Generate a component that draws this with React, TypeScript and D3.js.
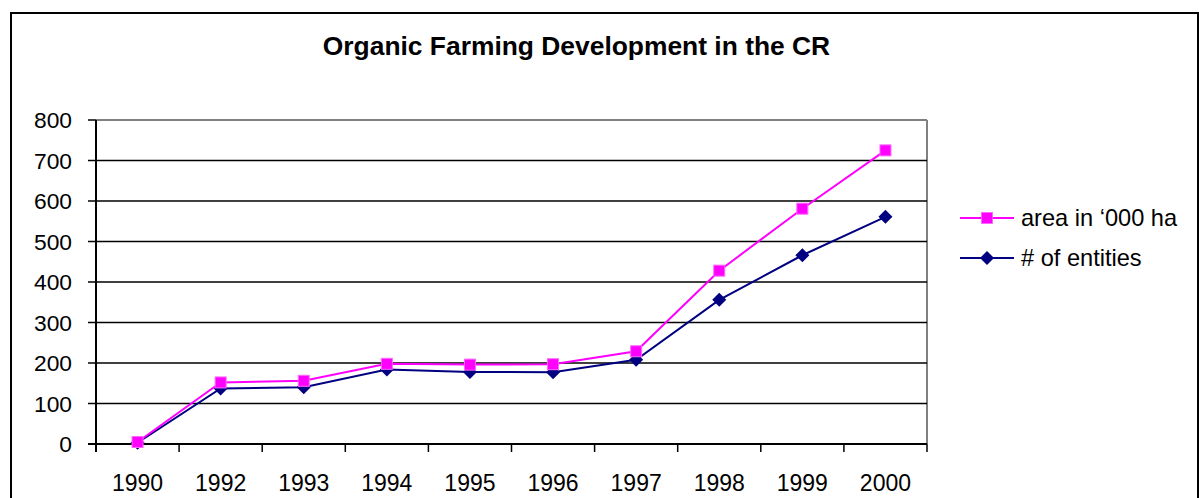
import React from "react";
import * as d3 from "d3";

const years = ["1990", "1992", "1993", "1994", "1995", "1996", "1997", "1998", "1999", "2000"];
const areaValues = [5, 152, 156, 198, 196, 197, 229, 428, 581, 725];
const entityValues = [3, 137, 140, 184, 178, 177, 208, 356, 466, 561];
const yTicks = [0, 100, 200, 300, 400, 500, 600, 700, 800];
const seriesNames = ["area in \u2018000 ha", "# of entities"];

const W = 1199;
const H = 498;
const plot = { left: 96, right: 927, top: 120, bottom: 444 };
const PINK = "#FF00FF";
const NAVY = "#000080";
const FONT = "'Liberation Sans', Arial, sans-serif";

export default function App() {
  const x = d3.scaleBand<string>().domain(years).range([plot.left, plot.right]).padding(0);
  const y = d3.scaleLinear().domain([0, 800]).range([plot.bottom, plot.top]);
  const cx = (d: string) => (x(d) as number) + x.bandwidth() / 2;

  const line = d3
    .line<number>()
    .x((_, i) => cx(years[i]))
    .y((v) => y(v));

  const square = (px: number, py: number, key: string) => (
    <rect key={key} x={px - 5.5} y={py - 5.5} width={11} height={11} fill={PINK} stroke="#FF66FF" strokeWidth={1} />
  );
  const diamond = (px: number, py: number, key: string) => (
    <path key={key} d={`M${px},${py - 7}L${px + 7},${py}L${px},${py + 7}L${px - 7},${py}Z`} fill={NAVY} />
  );

  const tickXs = years.map((d) => x(d) as number).concat([plot.right]);

  return (
    <svg width={W} height={H} style={{ position: "absolute", left: 0, top: 0, background: "#fff" }} fontFamily={FONT}>
      <rect x={11} y={13} width={1187} height={500} fill="#fff" stroke="#000" strokeWidth={2} />
      <text x={576.5} y={55} textAnchor="middle" fontSize={26.4} fontWeight="bold">
        Organic Farming Development in the CR
      </text>

      {/* plot border (grey) */}
      <line x1={plot.left} x2={plot.right} y1={plot.top} y2={plot.top} stroke="#808080" strokeWidth={2} />
      <line x1={plot.right} x2={plot.right} y1={plot.top} y2={plot.bottom} stroke="#808080" strokeWidth={2} />

      {/* gridlines */}
      {yTicks
        .filter((t) => t > 0 && t < 800)
        .map((t) => (
          <line key={"g" + t} x1={plot.left} x2={plot.right} y1={y(t)} y2={y(t)} stroke="#000" strokeWidth={1.5} />
        ))}

      {/* y axis */}
      <line x1={plot.left} x2={plot.left} y1={plot.top} y2={plot.bottom + 8} stroke="#000" strokeWidth={2} />
      {yTicks.map((t) => (
        <g key={"yt" + t}>
          <line x1={plot.left - 8} x2={plot.left} y1={y(t)} y2={y(t)} stroke="#000" strokeWidth={1.5} />
          <text x={72} y={y(t) + 8} textAnchor="end" fontSize={22.8}>
            {t}
          </text>
        </g>
      ))}

      {/* x axis */}
      <line x1={plot.left - 8} x2={plot.right} y1={plot.bottom} y2={plot.bottom} stroke="#000" strokeWidth={2} />
      {tickXs.map((tx, i) => (
        <line key={"xt" + i} x1={tx} x2={tx} y1={plot.bottom} y2={plot.bottom + 8} stroke="#000" strokeWidth={1.5} />
      ))}
      {years.map((d) => (
        <text key={"xl" + d} x={cx(d)} y={490.5} textAnchor="middle" fontSize={23}>
          {d}
        </text>
      ))}

      {/* series */}
      <path d={line(entityValues) || ""} fill="none" stroke={NAVY} strokeWidth={2} />
      {entityValues.map((v, i) => diamond(cx(years[i]), y(v), "d" + i))}
      <path d={line(areaValues) || ""} fill="none" stroke={PINK} strokeWidth={2} />
      {areaValues.map((v, i) => square(cx(years[i]), y(v), "s" + i))}

      {/* legend */}
      <line x1={960} x2={1014} y1={218} y2={218} stroke={PINK} strokeWidth={2} />
      {square(987, 218, "ls")}
      <text x={1021} y={226} fontSize={23.6}>
        {seriesNames[0]}
      </text>
      <line x1={960} x2={1014} y1={258} y2={258} stroke={NAVY} strokeWidth={2} />
      {diamond(987, 258, "ld")}
      <text x={1021} y={266} fontSize={23.6}>
        {seriesNames[1]}
      </text>
    </svg>
  );
}
